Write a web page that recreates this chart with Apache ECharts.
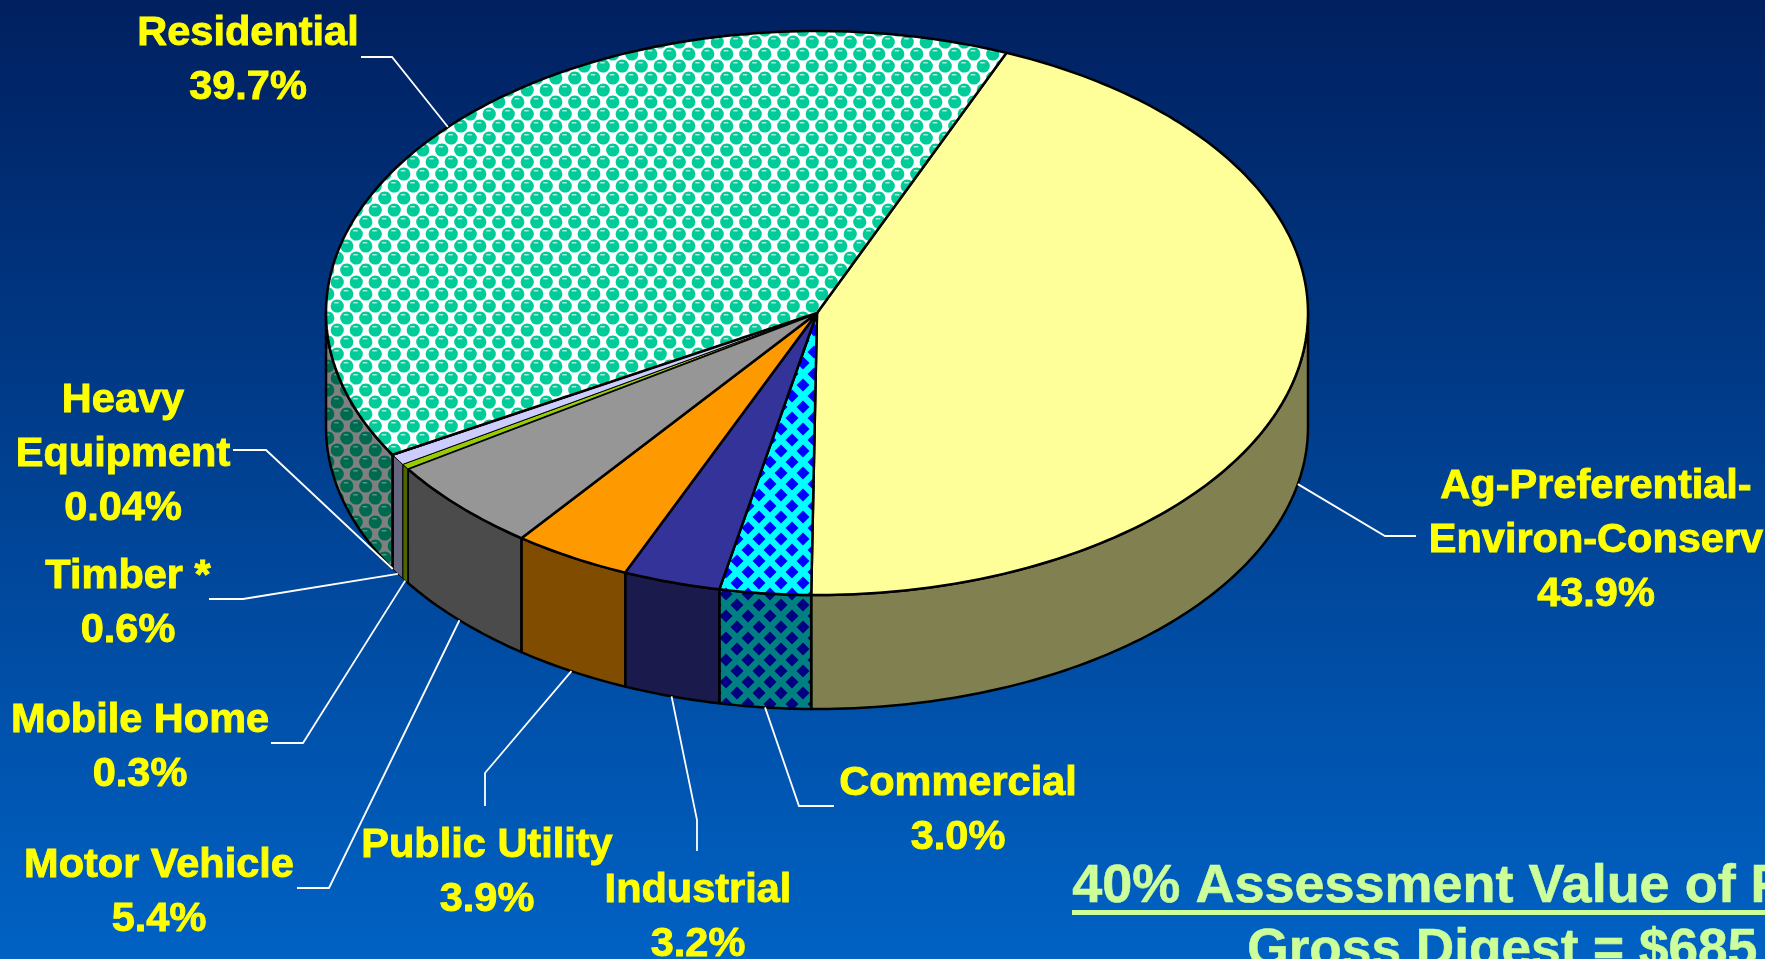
<!DOCTYPE html>
<html>
<head>
<meta charset="utf-8">
<style>html,body{margin:0;padding:0;width:100%;height:100%;overflow:hidden}#c{width:1765px;height:959px}</style>
<script src="https://cdn.jsdelivr.net/npm/echarts@6/dist/echarts.min.js"></script>
</head>
<body>
<div id="c"></div>
<script>
// ---- data (clockwise from the Ag / Residential boundary) ----
var categories = ['Ag-Preferential-\nEnviron-Conserv', 'Commercial', 'Industrial', 'Public Utility', 'Motor Vehicle', 'Mobile Home', 'Timber *', 'Heavy\nEquipment', 'Residential'];
var values = [43.9, 3.0, 3.2, 3.9, 5.4, 0.3, 0.6, 0.04, 39.7];
var valueLabels = ['43.9%', '3.0%', '3.2%', '3.9%', '5.4%', '0.3%', '0.6%', '0.04%', '39.7%'];
var titleLines = ['40% Assessment Value of P', 'Gross Digest = $685'];

// ---- styles / layout ----
var topColors = ['#ffff99', 'commercialTop', '#333399', '#ff9900', '#969696', '#99cc00', '#ccccff', '#ffffff', 'residentialTop'];
var sideColors = ['#808050', 'commercialSide', '#1a1a4d', '#804d00', '#4b4b4b', '#4d6600', '#666680', '#808080', 'residentialSide'];
var labelCenters = [[1596,541],[958,811],[698,918],[487,873],[159,893],[140,748],[128,604],[123,455],[248,61]];
var elbows = [
  [[1416,536],[1385,536]], [[834,806],[799,806]], [[697,851],[697,820]], [[485,806],[485,773]],
  [[297,888],[329,888]], [[271,743],[303,743]], [[209,599],[243,599]], [[233,450],[266,450]], [[361,57],[392,57]]
];
var CX = 817, CY = 313, RX = 491, RY = 282, DEPTH = 114, START = 22.7;

function diamonds(bg, fg) {
  var s = 22, c = document.createElement('canvas'); c.width = s; c.height = s;
  var g = c.getContext('2d'); g.fillStyle = bg; g.fillRect(0,0,s,s); g.fillStyle = fg;
  [[0,0],[s,0],[0,s],[s,s],[s/2,s/2]].forEach(function(p){
    g.beginPath(); g.moveTo(p[0],p[1]-6.5); g.lineTo(p[0]+6.5,p[1]); g.lineTo(p[0],p[1]+6.5); g.lineTo(p[0]-6.5,p[1]); g.closePath(); g.fill();
  });
  return {image: c, repeat: 'repeat'};
}
function spheres(bg, fg, hi) {
  var w = 19, h = 24, c = document.createElement('canvas'); c.width = w; c.height = h;
  var g = c.getContext('2d'); g.fillStyle = bg; g.fillRect(0,0,w,h);
  [[4.75,6],[14.25,18]].forEach(function(p){
    [[0,0],[w,0],[-w,0],[0,h],[0,-h]].forEach(function(o){
      g.fillStyle = fg; g.beginPath(); g.arc(p[0]+o[0],p[1]+o[1],6.6,0,Math.PI*2); g.fill();
      g.fillStyle = hi; g.fillRect(p[0]+o[0]-3,p[1]+o[1]-4,4.5,1.5);
    });
  });
  return {image: c, repeat: 'repeat'};
}
var fills = {
  commercialTop: diamonds('#00ffff', '#0000ff'),
  commercialSide: diamonds('#008080', '#000080'),
  residentialTop: spheres('#ffffff', '#00cc99', '#a8ecd8'),
  residentialSide: spheres('#808080', '#006a50', '#4f9a86')
};
function paint(name) { return fills[name] || name; }

var total = values.reduce(function(a,b){return a+b;}, 0);
function pt(deg, dy) {
  var r = deg * Math.PI / 180;
  return [CX + RX * Math.sin(r), CY - RY * Math.cos(r) + (dy || 0)];
}
function arc(a0, a1, dy) {
  var out = [], n = Math.max(1, Math.ceil(Math.abs(a1 - a0)));
  for (var i = 0; i <= n; i++) out.push(pt(a0 + (a1 - a0) * i / n, dy));
  return out;
}

function renderItem(params, api) {
  var i = params.dataIndex, before = 0;
  for (var k = 0; k < i; k++) before += values[k];
  var a0 = START + before / total * 360;
  var a1 = a0 + api.value(0) / total * 360;
  var mid = (a0 + a1) / 2;
  var lw = api.value(0) < 1 ? 1 : 2.5;
  var children = [];
  var w0 = Math.max(a0, 90), w1 = Math.min(a1, 270);
  if (w1 > w0) {
    children.push({type: 'polygon', shape: {points: arc(w0, w1, 0).concat(arc(w1, w0, DEPTH))},
      style: {fill: paint(sideColors[i]), stroke: '#000', lineWidth: lw, lineJoin: 'round'}});
  }
  children.push({type: 'polygon', shape: {points: [[CX, CY]].concat(arc(a0, a1, 0))},
    style: {fill: paint(topColors[i]), stroke: '#000', lineWidth: lw, lineJoin: 'round'}});
  var norm = ((mid % 360) + 360) % 360;
  var front = norm > 90 && norm < 270;
  var anchor = pt(mid, front ? DEPTH : 0);
  children.push({type: 'polyline', shape: {points: elbows[i].concat([anchor])},
    style: {fill: 'none', stroke: '#ffffff', lineWidth: 1.8}, z2: 5});
  children.push({type: 'text', z2: 10, style: {
    text: categories[i] + '\n' + valueLabels[i],
    x: labelCenters[i][0], y: labelCenters[i][1],
    align: 'center', verticalAlign: 'middle', lineHeight: 54,
    font: 'bold 41.5px "Liberation Sans", Arial, sans-serif', fill: '#ffff00',
    stroke: '#ffff00', lineWidth: 0.9
  }});
  return {type: 'group', children: children};
}

var chart = echarts.init(document.getElementById('c'), null, {renderer: 'canvas'});
chart.setOption({
  animation: false,
  backgroundColor: {type: 'linear', x: 0, y: 0, x2: 0, y2: 1, colorStops: [
    {offset: 0, color: '#002060'}, {offset: 1, color: '#0062c4'}]},
  tooltip: {show: false},
  series: [{
    type: 'custom', coordinateSystem: 'none', silent: true,
    data: values.map(function(v){ return [v]; }),
    renderItem: renderItem
  }],
  graphic: [
    {type: 'text', left: 1072, top: 860, style: {text: titleLines[0], font: 'bold 54px "Liberation Sans", Arial, sans-serif', fill: '#ccff99', stroke: '#ccff99', lineWidth: 0.6}},
    {type: 'rect', shape: {x: 1072, y: 910, width: 693, height: 5}, style: {fill: '#ccff99'}},
    {type: 'text', left: 1247, top: 925, style: {text: titleLines[1], font: 'bold 53.2px "Liberation Sans", Arial, sans-serif', fill: '#ccff99', stroke: '#ccff99', lineWidth: 0.6}}
  ]
});
</script>
</body>
</html>
